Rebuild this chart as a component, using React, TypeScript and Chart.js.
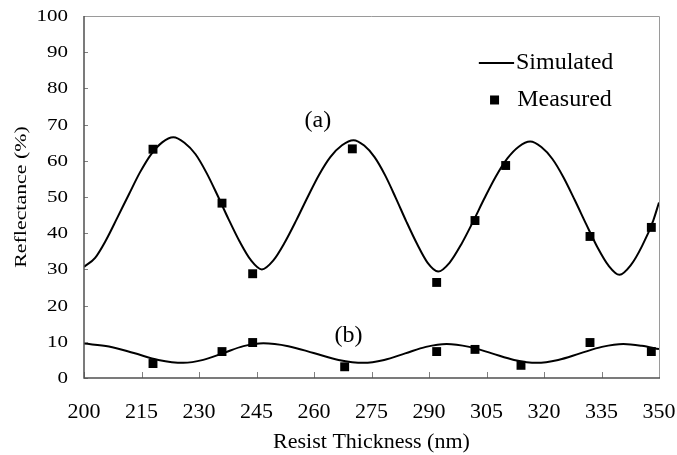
import React, { useEffect, useRef } from "react";
import { Chart, registerables } from "chart.js";
Chart.register(...registerables);

const FONT = "'Liberation Serif', 'Times New Roman', serif";

// Simulated curve (a)
const simAX = [
  200, 202.9, 205.8, 208.7, 211.7, 214.6, 217.5, 220.4, 223.3,
  226.2, 229.1, 232.0, 234.85, 237.7, 240.6, 243.5, 246.4,
  249.4, 252.4, 255.4, 258.35, 261.3, 264.3, 267.3, 270.3,
  273.1, 275.8, 278.6, 281.35, 284.1, 286.9, 289.6, 292.4,
  295.4, 298.4, 301.4, 304.4, 307.4, 310.4, 313.4, 316.4,
  319.3, 322.2, 325.1, 328.05, 331.0, 333.9, 336.8, 339.7,
  342.6, 345.6, 348.5, 350,
];
const simAY = [
  30.7, 33.2, 38.2, 44.3, 50.7, 56.8, 61.8, 65.1, 66.5,
  65.0, 61.8, 56.6, 50.4, 43.9, 37.7, 32.6, 30.0,
  32.5, 37.5, 43.6, 50.0, 56.1, 61.1, 64.3, 65.7,
  64.2, 61.0, 55.9, 49.7, 43.2, 37.0, 31.9, 29.4,
  31.9, 36.9, 43.0, 49.5, 55.6, 60.6, 63.9, 65.3,
  63.8, 60.5, 55.4, 49.1, 42.5, 36.2, 31.1, 28.5,
  31.1, 36.5, 43.5, 48.5,
];

// Simulated curve (b)
const simBX = [200, 206.5, 213.0, 219.4, 225.9, 231.1, 236.4, 241.6, 246.8, 253.3, 259.9, 266.4, 272.9, 278.3, 283.8, 289.2, 294.6, 300.5, 306.4, 312.2, 318.1, 323.7, 329.4, 335.1, 340.7, 345.5, 350];
const simBY = [9.5, 8.7, 6.9, 5.0, 4.2, 5.0, 6.9, 8.8, 9.6, 8.8, 6.9, 5.0, 4.2, 5.0, 6.8, 8.6, 9.4, 8.6, 6.8, 5.0, 4.2, 5.0, 6.8, 8.6, 9.4, 8.9, 8.0];

// Measured points
const measAX = [218, 236, 244, 270, 292, 302, 310, 332, 348];
const measAY = [63.2, 48.3, 28.8, 63.3, 26.4, 43.5, 58.7, 39.1, 41.6];
const measBX = [218, 236, 244, 268, 292, 302, 314, 332, 348];
const measBY = [4.0, 7.3, 9.8, 3.1, 7.3, 7.9, 3.5, 9.8, 7.3];

const xTicks = [200, 215, 230, 245, 260, 275, 290, 305, 320, 335, 350];
const yTicks = [0, 10, 20, 30, 40, 50, 60, 70, 80, 90, 100];

const zip = (xs: number[], ys: number[]) => xs.map((x, i) => ({ x, y: ys[i] }));

const decorPlugin = {
  id: "decor",
  afterDraw(chart: any) {
    const { ctx, chartArea: a, scales } = chart;
    const xs = scales.x;
    const ys = scales.y;
    ctx.save();
    // inward ticks
    ctx.strokeStyle = "#808080";
    ctx.lineWidth = 1;
    ctx.beginPath();
    xTicks.forEach((t) => {
      const px = Math.round(xs.getPixelForValue(t)) + 0.5;
      ctx.moveTo(px, a.bottom);
      ctx.lineTo(px, a.bottom - 6);
    });
    yTicks.forEach((t) => {
      const py = Math.round(ys.getPixelForValue(t)) + 0.5;
      ctx.moveTo(a.left, py);
      ctx.lineTo(a.left + 4, py);
    });
    ctx.stroke();
    // frame
    ctx.strokeStyle = "#9a9a9a";
    ctx.beginPath();
    ctx.moveTo(a.left, a.top + 0.5);
    ctx.lineTo(a.right + 0.5, a.top + 0.5);
    ctx.lineTo(a.right + 0.5, a.bottom);
    ctx.stroke();
    ctx.strokeStyle = "#505050";
    ctx.lineWidth = 1.5;
    ctx.beginPath();
    ctx.moveTo(a.left, a.top);
    ctx.lineTo(a.left, a.bottom);
    ctx.lineTo(a.right + 1, a.bottom);
    ctx.stroke();

    ctx.fillStyle = "#000";
    // y tick labels (horizontally stretched like the reference)
    ctx.font = `17.5px ${FONT}`;
    ctx.textAlign = "right";
    ctx.textBaseline = "middle";
    yTicks.forEach((t) => {
      const py = ys.getPixelForValue(t);
      ctx.save();
      ctx.translate(a.left - 16, py + 0.5);
      ctx.scale(1.2, 1);
      ctx.fillText(String(t), 0, 0);
      ctx.restore();
    });
    // y axis title
    ctx.save();
    ctx.translate(21, (a.top + a.bottom) / 2);
    ctx.rotate(-Math.PI / 2);
    ctx.scale(1.25, 1);
    ctx.textAlign = "center";
    ctx.font = `17.5px ${FONT}`;
    ctx.fillText("Reflectance (%)", 0, 0);
    ctx.restore();

    // annotations
    ctx.font = `24px ${FONT}`;
    ctx.textAlign = "center";
    ctx.textBaseline = "middle";
    ctx.fillText("(a)", xs.getPixelForValue(261), ys.getPixelForValue(71));
    ctx.fillText("(b)", xs.getPixelForValue(269), ys.getPixelForValue(11.6));

    // legend
    const ly1 = ys.getPixelForValue(87);
    ctx.strokeStyle = "#000";
    ctx.lineWidth = 2;
    ctx.beginPath();
    ctx.moveTo(xs.getPixelForValue(303), ly1);
    ctx.lineTo(xs.getPixelForValue(312.2), ly1);
    ctx.stroke();
    ctx.textAlign = "left";
    ctx.fillText("Simulated", xs.getPixelForValue(312.7), ly1);
    const ly2 = ys.getPixelForValue(76.8);
    const sx = xs.getPixelForValue(307.1);
    ctx.fillRect(sx - 4.5, ly2 - 4.5, 9, 9);
    ctx.fillText("Measured", xs.getPixelForValue(313), ly2);
    ctx.restore();
  },
};

export default function App() {
  const ref = useRef<HTMLCanvasElement | null>(null);
  useEffect(() => {
    if (!ref.current) return;
    const chart = new Chart(ref.current, {
      type: "scatter",
      data: {
        datasets: [
          {
            label: "Simulated (a)",
            data: zip(simAX, simAY),
            showLine: true,
            borderColor: "#000",
            borderWidth: 2,
            pointRadius: 0,
            cubicInterpolationMode: "monotone",
          },
          {
            label: "Simulated (b)",
            data: zip(simBX, simBY),
            showLine: true,
            borderColor: "#000",
            borderWidth: 2,
            pointRadius: 0,
            cubicInterpolationMode: "monotone",
          },
          {
            label: "Measured (a)",
            data: zip(measAX, measAY),
            pointStyle: "rect",
            pointRadius: 6.3,
            backgroundColor: "#000",
            borderColor: "#000",
            borderWidth: 0,
          },
          {
            label: "Measured (b)",
            data: zip(measBX, measBY),
            pointStyle: "rect",
            pointRadius: 6.3,
            backgroundColor: "#000",
            borderColor: "#000",
            borderWidth: 0,
          },
        ],
      },
      options: {
        responsive: false,
        animation: false,
        layout: { padding: { left: 0, top: 16, right: 18, bottom: 0 } },
        plugins: { legend: { display: false }, tooltip: { enabled: false } },
        scales: {
          x: {
            type: "linear",
            min: 200,
            max: 350,
            afterFit: (s: any) => {
              s.height = 77;
              s.paddingLeft = 0;
              s.paddingRight = 0;
            },
            afterBuildTicks: (s: any) => {
              s.ticks = xTicks.map((v) => ({ value: v }));
            },
            grid: { display: false, drawTicks: false },
            border: { display: false },
            ticks: {
              color: "#000",
              font: { family: FONT, size: 22 },
              padding: 21,
              maxRotation: 0,
              autoSkip: false,
            },
            title: {
              display: true,
              text: "Resist Thickness (nm)",
              color: "#000",
              font: { family: FONT, size: 22 },
              padding: { top: 0, bottom: 0 },
            },
          },
          y: {
            type: "linear",
            min: 0,
            max: 100,
            afterFit: (s: any) => {
              s.width = 84;
              s.paddingTop = 0;
              s.paddingBottom = 0;
            },
            afterBuildTicks: (s: any) => {
              s.ticks = yTicks.map((v) => ({ value: v }));
            },
            grid: { display: false, drawTicks: false },
            border: { display: false },
            ticks: { display: false },
            title: { display: false },
          },
        },
      },
      plugins: [decorPlugin],
    });
    return () => chart.destroy();
  }, []);
  return (
    <div style={{ position: "absolute", left: 0, top: 0, width: 677, height: 455, background: "#fff" }}>
      <canvas ref={ref} width={677} height={455} />
    </div>
  );
}
